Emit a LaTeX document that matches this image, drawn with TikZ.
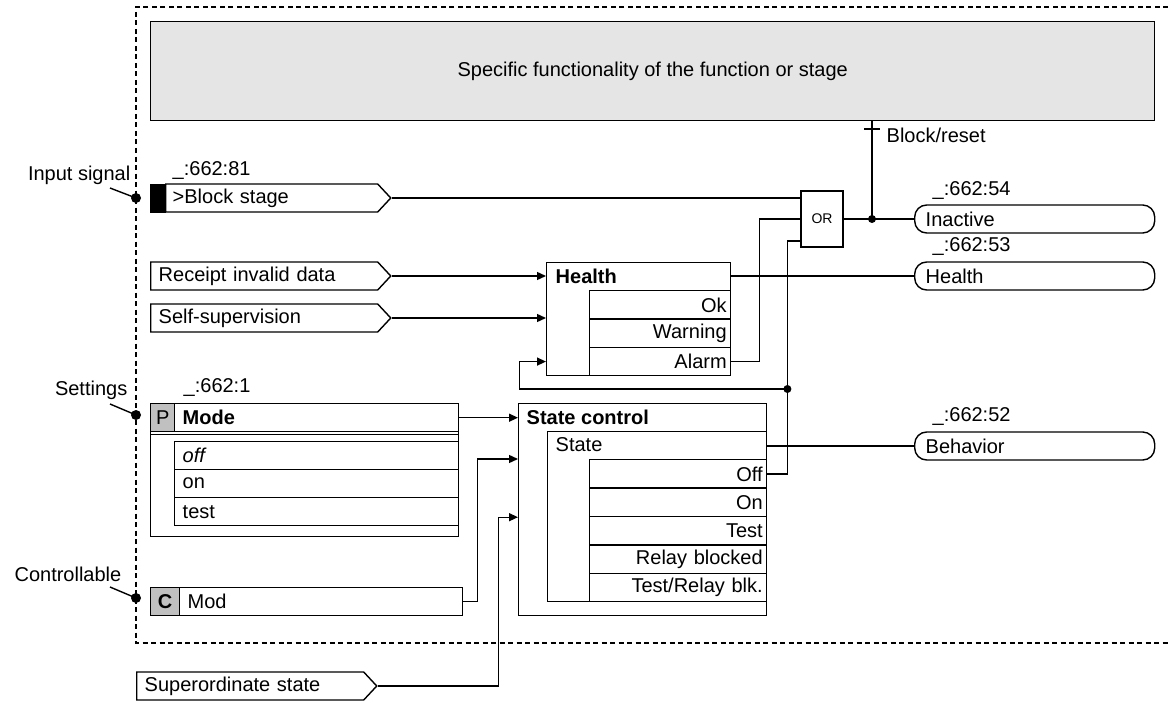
\documentclass[tikz,border=0pt]{standalone}
\usepackage{fontspec}
\setmainfont{Liberation Sans}
\usetikzlibrary{arrows.meta}
\usetikzlibrary{shapes.symbols}

\definecolor{specgray}{HTML}{E5E5E5}
\definecolor{cellgray}{HTML}{C0C0C0}

\tikzset{
  every node/.style={font=\fontsize{20}{24}\selectfont},
  blockbox/.style={draw, rectangle, anchor=north west, inner sep=0pt},
  rowleft/.style={draw, rectangle, anchor=north west, minimum height=28pt, inner ysep=0pt, inner xsep=8pt, text width=#1, align=left},
  rowright/.style={draw, rectangle, anchor=north west, minimum height=28.4pt, inner ysep=0pt, inner xsep=4pt, text width=#1, align=right},
  insignal/.style={draw, signal, signal to=east, signal pointer angle=94, anchor=west, minimum height=28pt, inner ysep=0pt, inner xsep=8pt, text width=#1, align=left},
  outsignal/.style={draw, rectangle, rounded corners=12pt, anchor=west, minimum height=28pt, inner ysep=0pt, inner xsep=11pt, text width=218pt, align=left},
  cell/.style={draw, fill=cellgray, rectangle, anchor=north west, minimum height=28pt, minimum width=#1, inner sep=0pt},
  jdot/.style={circle, fill, inner sep=0pt, minimum size=8pt},
  sdot/.style={circle, fill, inner sep=0pt, minimum size=10pt},
  sidelabel/.style={anchor=east, inner sep=0pt},
  numlabel/.style={anchor=west, inner sep=0pt},
}

\begin{document}
\begin{tikzpicture}[x=1pt, y=-1pt, line width=1.4pt, >={Triangle[length=9pt,width=8pt]}]
\useasboundingbox (0,0) rectangle (1168,701);

% function frame
\draw[line width=1.1pt, dash pattern=on 5pt off 3.5pt] (1168,7) -- (136,7) -- (136,643) -- (1168,643);
\node[blockbox, fill=specgray, minimum width=1004pt, minimum height=99pt] (spec) at (150,21) {Specific functionality of the function or stage};

% side labels
\node[sidelabel] (lin) at (131,175) {Input signal};
\node[sdot] (din) at (136,198) {};
\draw (din.center) -- ++(-26,-10);
\node[sidelabel] (lset) at (128,390) {Settings};
\node[sdot] (dset) at (136,415) {};
\draw (dset.center) -- ++(-26,-11);
\node[sidelabel] (lctl) at (122,574) {Controllable};
\node[sdot] (dctl) at (136,598) {};
\draw (dctl.center) -- ++(-26,-11);

% inputs
\node[numlabel] (n81) at (172,171) {\_:662:81};
\node[blockbox, fill=black, minimum width=15pt, minimum height=28pt] (blkcell) at (150,184) {};
\node[insignal=198pt, inner xsep=7pt] (blk) at (165,198) {>Block stage};
\node[insignal=211pt] (rcpt) at (150,276) {Receipt invalid data};
\node[insignal=211pt] (ssup) at (150,318) {Self-supervision};
\node[insignal=211pt] (super) at (136,686) {Superordinate state};

% health
\node[blockbox, minimum width=184pt, minimum height=113pt] (hlth) at (546,262) {};
\node[numlabel] (hname) at (555,276) {\textbf{Health}};
\node[rowright=133pt] (hok) at (589,290) {Ok};
\node[rowright=133pt] (hwarn) at (589,318.33) {Warning};
\node[rowright=133pt] (halarm) at (589,346.67) {Alarm};

% or gate
\node[draw, minimum width=42pt, minimum height=56pt, inner sep=0pt, font=\fontsize{14}{16}\selectfont] (or) at (822,219) {OR};
\node[jdot] (jor) at (872,219) {};
\node[numlabel] (lblk) at (886,135) {Block/reset};

% mode setting
\node[numlabel] (n1) at (183,388) {\_:662:1};
\node[blockbox, minimum width=308pt, minimum height=132.5pt] (mode) at (150,403) {};
\node[cell=24pt] (pcell) at (150,403) {P};
\node[rowleft=268pt] (mhead) at (174,403) {\textbf{Mode}};
\draw ([yshift=-2pt]pcell.south west) -- ([yshift=-2pt]mhead.south east);
\node[rowleft=268pt] (moff) at (174,441) {\textit{off}};
\node[rowleft=268pt] (mon) at (174,469) {on};
\node[rowleft=268pt] (mtest) at (174,497) {test};

% controllable
\node[cell=29pt] (ccell) at (150,587) {\textbf{C}};
\node[rowleft=267pt] (mod) at (179,587) {Mod};

% state control
\node[blockbox, minimum width=248pt, minimum height=212pt] (sc) at (518,403) {};
\node[numlabel] (scname) at (526,417) {\textbf{State control}};
\node[blockbox, minimum width=219pt, minimum height=170pt] (stbox) at (547,431) {};
\node[numlabel] (stname) at (555,445) {State};
\node[rowright=169pt] (soff) at (589,459) {Off};
\node[rowright=169pt] (son) at (589,487.4) {On};
\node[rowright=169pt] (stest) at (589,515.8) {Test};
\node[rowright=169pt] (srel) at (589,544.2) {Relay blocked};
\node[rowright=169pt] (strel) at (589,572.6) {Test/Relay blk.};

% outputs
\node[numlabel] (n54) at (932,191) {\_:662:54};
\node[outsignal] (inact) at (914,219) {Inactive};
\node[numlabel] (n53) at (932,247) {\_:662:53};
\node[outsignal] (hout) at (914,276) {Health};
\node[numlabel] (n52) at (932,417) {\_:662:52};
\node[outsignal] (beh) at (914,446) {Behavior};

% connections
\draw (blk.east) -- (blk.east -| or.west);
\draw (halarm.east) -- ++(28,0) |- (or.west);
\draw (soff.east) -- ++(20,0) coordinate (offbend) |- ([yshift=-22pt]or.west);
\node[jdot] (jfb) at (offbend |- 0,389) {};
\draw[->] (jfb.center) -- ++(-268,0) |- (hlth.west |- halarm);
\draw (or.east) -- (inact.west);
\draw (spec.south -| jor) -- (jor.center);
\draw (jor |- 0,129) ++(-8,0) -- ++(16,0);
\draw[->] (rcpt.east) -- (rcpt.east -| hlth.west);
\draw[->] (ssup.east) -- (ssup.east -| hlth.west);
\draw (hlth.east |- hout.west) -- (hout.west);
\draw[->] (mhead.east) -- (mhead.east -| sc.west);
\draw[->] (mod.east) -- ++(14,0) |- (sc.west |- soff.north);
\draw[->] (super.east) -- ++(121,0) |- (sc.west |- son.south);
\draw (stbox.east |- beh.west) -- (beh.west);
\end{tikzpicture}
\end{document}
